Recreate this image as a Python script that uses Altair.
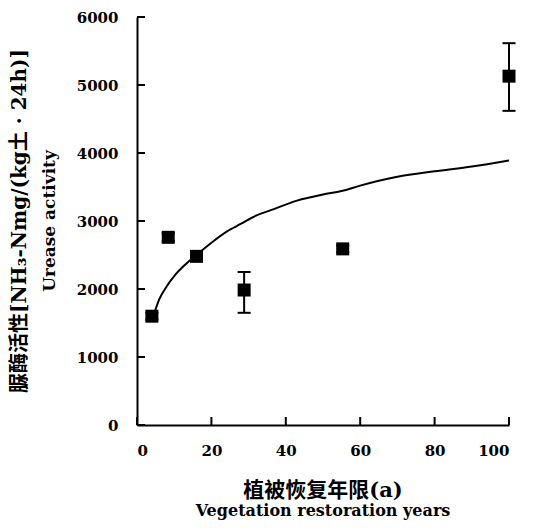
import altair as alt
import pandas as pd

# Measured points (vegetation restoration years vs urease activity)
years = [4.0, 8.4, 16.0, 28.8, 55.3, 100.0]
urease = [1600, 2760, 2480, 1985, 2590, 5130]
err_low = [1550, 2700, 2420, 1650, 2540, 4620]
err_high = [1650, 2820, 2540, 2250, 2640, 5615]

# Fitted curve
fit_years = [4.5, 6, 8, 10, 13, 16, 20, 24, 28, 32, 36, 43, 50, 55, 60, 70, 80, 90, 100]
fit_values = [1620, 1850, 2040, 2190, 2360, 2500, 2680, 2840, 2960, 3080, 3160, 3300, 3390,
              3440, 3520, 3650, 3730, 3800, 3890]

x_ticks = [0, 20, 40, 60, 80, 100]
y_ticks = [0, 1000, 2000, 3000, 4000, 5000, 6000]

y_title_cn = "脲酶活性[NH₃-Nmg/(kg土 · 24h)]"
y_title_en = "Urease activity"
x_title_cn = "植被恢复年限(a)"
x_title_en = "Vegetation restoration years"

pts = pd.DataFrame({"year": years, "urease": urease, "lo": err_low, "hi": err_high})
fit = pd.DataFrame({"year": fit_years, "urease": fit_values})
xt = pd.DataFrame({"year": x_ticks})
yt = pd.DataFrame({"urease": y_ticks})

FONT = "DejaVu Serif, Noto Sans CJK SC"
LFONT = "DejaVu Serif"

xs = alt.Scale(domain=[0, 100], nice=False, zero=False)
ys = alt.Scale(domain=[0, 6000], nice=False, zero=False)

x_axis = alt.Axis(values=x_ticks, title=None, ticks=False, grid=False,
                  domainColor="black", domainWidth=2, labelFont=LFONT,
                  labelFontSize=15, labelFontWeight="bold", labelColor="black",
                  labelPadding=18, format="d")
y_axis = alt.Axis(values=y_ticks, title=None, ticks=False, grid=False,
                  domainColor="black", domainWidth=2, labelFont=LFONT,
                  labelFontSize=15, labelFontWeight="bold", labelColor="black",
                  labelPadding=19, format="d")


def X(field):
    return alt.X(field, type="quantitative", scale=xs, axis=x_axis)


def Y(field):
    return alt.Y(field, type="quantitative", scale=ys, axis=y_axis)


line = alt.Chart(fit).mark_line(color="black", strokeWidth=2, interpolate="monotone").encode(
    x=X("year"), y=Y("urease"))

err = alt.Chart(pts).mark_rule(color="black", strokeWidth=2).encode(
    x=X("year"), y=Y("lo"), y2="hi")
cap_lo = alt.Chart(pts).mark_tick(color="black", orient="horizontal", size=13,
                                  thickness=2, opacity=1).encode(x=X("year"), y=Y("lo"))
cap_hi = alt.Chart(pts).mark_tick(color="black", orient="horizontal", size=13,
                                  thickness=2, opacity=1).encode(x=X("year"), y=Y("hi"))
squares = alt.Chart(pts).mark_square(color="black", size=169, opacity=1, filled=True).encode(
    x=X("year"), y=Y("urease"))

xtick = alt.Chart(xt).mark_rule(color="black", strokeWidth=2).encode(
    x=X("year"), y=alt.value(408), y2=alt.value(400))
ytick = alt.Chart(yt).mark_rule(color="black", strokeWidth=2).encode(
    y=Y("urease"), x=alt.value(0), x2=alt.value(8))

inner = alt.layer(xtick, ytick, line, err, cap_lo, cap_hi, squares).properties(
    width=372, height=408,
    title=alt.Title(text=y_title_cn, subtitle=y_title_en, orient="left", anchor="middle",
                    frame="group", font=FONT, fontSize=20, fontWeight="bold", color="black",
                    subtitleFont=LFONT, subtitleFontSize=17, subtitleFontWeight="bold",
                    subtitleColor="black", subtitlePadding=12, offset=18))

chart = alt.vconcat(inner).properties(
    title=alt.Title(text=x_title_cn, subtitle=x_title_en, orient="bottom", anchor="middle",
                    frame="group", font=FONT, fontSize=21, fontWeight="bold", color="black",
                    subtitleFont=LFONT, subtitleFontSize=16, subtitleFontWeight="bold",
                    subtitleColor="black", subtitlePadding=2, offset=22),
    padding={"left": 10, "top": 10, "right": 5, "bottom": 5},
    background="white",
).configure_view(stroke=None)

chart.save("out.html", embed_options={"renderer": "svg", "actions": False})
